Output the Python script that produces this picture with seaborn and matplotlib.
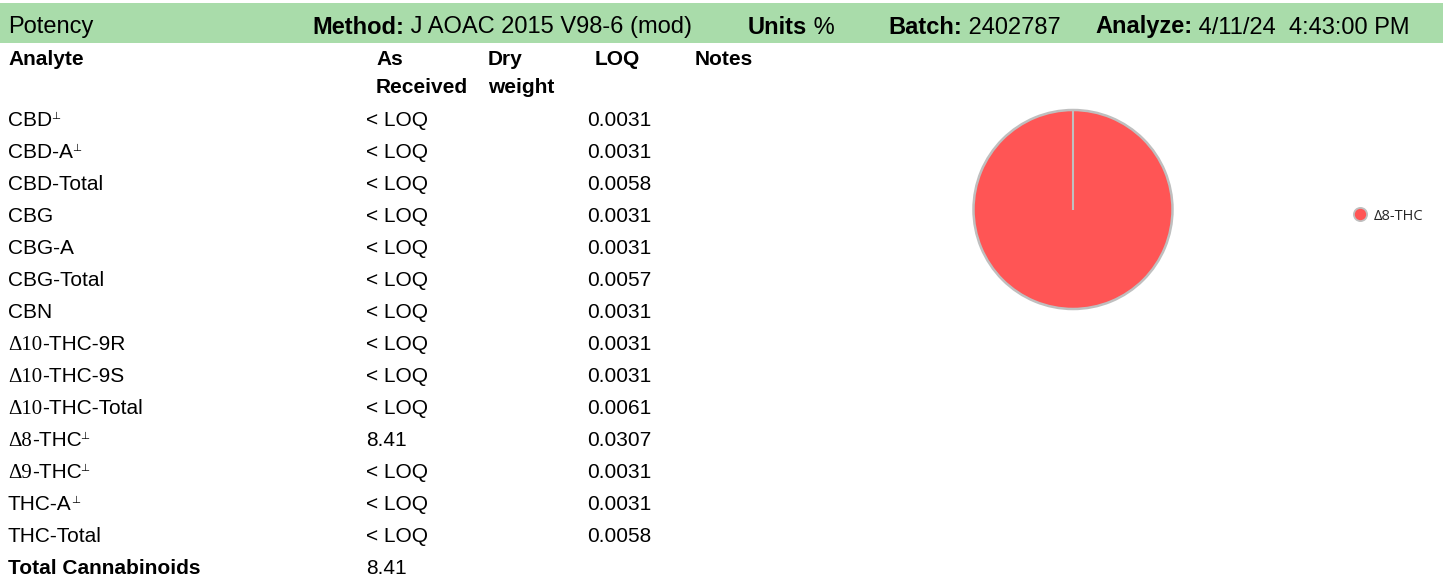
import re
import numpy as np
import matplotlib
matplotlib.use("Agg")
import matplotlib.pyplot as plt
import seaborn as sns
from matplotlib.patches import Rectangle
from matplotlib.lines import Line2D

# ---------------- data ----------------
title = "Potency"
method = "J AOAC 2015 V98-6 (mod)"
units = "%"
batch = "2402787"
analyze = "4/11/24  4:43:00 PM"

col_headers = ["Analyte", "As\nReceived", "Dry\nweight", "LOQ", "Notes"]

analytes = ["CBD", "CBD-A", "CBD-Total", "CBG", "CBG-A", "CBG-Total", "CBN",
            "Δ10-THC-9R", "Δ10-THC-9S", "Δ10-THC-Total", "Δ8-THC", "Δ9-THC",
            "THC-A", "THC-Total"]
flagged = [True, True, False, False, False, False, False,
           False, False, False, True, True, True, False]
as_received = ["< LOQ", "< LOQ", "< LOQ", "< LOQ", "< LOQ", "< LOQ", "< LOQ",
               "< LOQ", "< LOQ", "< LOQ", "8.41", "< LOQ", "< LOQ", "< LOQ"]
loq = ["0.0031", "0.0031", "0.0058", "0.0031", "0.0031", "0.0057", "0.0031",
       "0.0031", "0.0031", "0.0061", "0.0307", "0.0031", "0.0031", "0.0058"]
total_label = "Total Cannabinoids"
total_value = "8.41"

pie_labels = ["Δ8-THC"]
pie_values = [8.41]

# ---------------- style ----------------
sns.set_theme(style="white")
plt.rcParams["font.family"] = ["Liberation Sans", "DejaVu Sans"]

W, H = 1443, 579
BAND = "#a9dcaa"
RED = "#ff5555"
EDGE = "#bfbfbf"
BODY = 15
HEAD = 17

fig = plt.figure(figsize=(W / 100, H / 100), dpi=100)
fig.patch.set_facecolor("white")
ax = fig.add_axes([0, 0, 1, 1])
ax.set_xlim(0, W)
ax.set_ylim(H, 0)
ax.axis("off")
renderer = fig.canvas.get_renderer()


def put(x, y, s, size=BODY, weight="normal", family=None, color="black"):
    kw = {}
    if family is not None:
        kw["family"] = family
    t = ax.text(x, y, s, fontsize=size, fontweight=weight, va="baseline",
                ha="left", color=color, **kw)
    bb = t.get_window_extent(renderer)
    return x + bb.width


# header band
ax.add_patch(Rectangle((0, 3), W, 40, facecolor=BAND, edgecolor="none"))
hy = 33.5
put(8, hy, title, size=HEAD)
for xs, lab, val in [(312, "Method:", method), (748, "Units", units),
                     (888, "Batch:", batch), (1095, "Analyze:", analyze)]:
    x2 = put(xs, hy, lab, size=HEAD, weight="bold")
    put(x2, hy, " " + val, size=HEAD)

# column headers
col_x = [8, 376, 488, 595, 695]
for cx, h in zip(col_x, col_headers):
    lines = h.split("\n")
    for k, ln in enumerate(lines):
        put(cx, 65 + 28 * k, ln, weight="bold")

# rows
row0 = 126
step = 32
for i, (name, fl, ar, lq) in enumerate(zip(analytes, flagged, as_received, loq)):
    y = row0 + step * i
    m = re.match(r"^(Δ\d+)(.*)$", name)
    if m:
        x2 = put(8, y, m.group(1), family=["Liberation Serif", "DejaVu Serif"])
        x2 = put(x2, y, m.group(2))
    else:
        x2 = put(8, y, name)
    if fl:
        put(x2 - 1, y - 7, "⊥", size=7.5, family=["DejaVu Sans"])
    put(366, y, ar)
    put(587, y, lq)

yt = row0 + step * len(analytes)
put(8, yt, total_label, weight="bold")
put(366, yt, total_value)

# ---------------- pie ----------------
cx, cy, r = 1073, 209.5, 99.5
side = 2.5 * r
pax = fig.add_axes([(cx - side / 2) / W, (H - cy - side / 2) / H, side / W, side / H])
wedges, _ = pax.pie(pie_values, colors=[RED], startangle=90, counterclock=False,
                    wedgeprops=dict(edgecolor=EDGE, linewidth=1.8))
pax.set_xlim(-1.25, 1.25)
pax.set_ylim(-1.25, 1.25)
pax.set_aspect("equal")
th = np.deg2rad(wedges[0].theta2)
pax.plot([0, np.cos(th)], [0, np.sin(th)], color=EDGE, lw=1.5, solid_capstyle="butt")

handles = [Line2D([], [], marker="o", linestyle="none", markerfacecolor=RED,
                  markeredgecolor=EDGE, markeredgewidth=1.3, markersize=9.5)]
fig.legend(handles, pie_labels, loc="center left",
           bbox_to_anchor=(1353 / W, 1 - 216 / H), frameon=False,
           borderpad=0, borderaxespad=0, handlelength=1.0, handletextpad=0.45,
           prop={"family": ["Open Sans", "DejaVu Sans"], "size": 10.5})

fig.savefig("out.png", dpi=100, facecolor="white")
